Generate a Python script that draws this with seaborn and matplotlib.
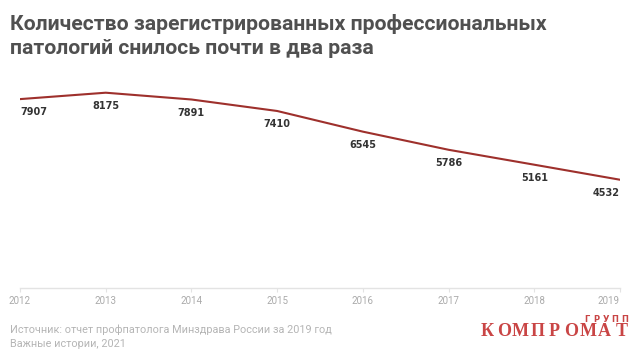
import matplotlib
matplotlib.use("Agg")
import matplotlib.pyplot as plt
import seaborn as sns
import pandas as pd

years = [2012, 2013, 2014, 2015, 2016, 2017, 2018, 2019]
values = [7907, 8175, 7891, 7410, 6545, 5786, 5161, 4532]
title = "Количество зарегистрированных профессиональных\nпатологий снилось почти в два раза"
source_lines = ["Источник: отчет профпатолога Минздрава России за 2019 год", "Важные истории, 2021"]
logo_main = "КОМПРОМАТ"
logo_sub = "ГРУПП"

df = pd.DataFrame({"year": years, "value": values})

sns.set_theme(style="white")
plt.rcParams["font.family"] = ["Roboto", "DejaVu Sans"]

W, H = 640, 359
fig = plt.figure(figsize=(W / 100, H / 100), dpi=100)
ax = fig.add_axes([20 / W, 1 - 288 / H, 600 / W, (288 - 73) / H])

sns.lineplot(data=df, x="year", y="value", ax=ax, color="#9e302c", linewidth=1.5)
ax.set_xlim(2012, 2019)
ax.set_ylim(0, 9000)

for i, (x, y) in enumerate(zip(years, values)):
    ha = "left" if i == 0 else ("right" if i == len(years) - 1 else "center")
    ax.annotate(str(y), (x, y), xytext=(0, -6), textcoords="offset points",
                ha=ha, va="top", fontsize=7, fontweight="bold", color="#333333",
                family=["DejaVu Sans"])

for s in ["top", "right", "left"]:
    ax.spines[s].set_visible(False)
ax.spines["bottom"].set_color("#e3e3e3")
ax.spines["bottom"].set_linewidth(1)
ax.set_yticks([])
ax.set_xticks(years)
ax.set_xticklabels([str(y) for y in years])
ax.tick_params(axis="x", length=3, width=0.8, color="#e3e3e3",
               labelsize=7, pad=3, bottom=True)
for lbl in ax.get_xticklabels():
    lbl.set_color("#aaaaaa")
ax.get_xticklabels()[-1].set_ha("right")
ax.set_xlabel("")
ax.set_ylabel("")

fig.text(10 / W, 1 - 14 / H, title, ha="left", va="top", fontsize=15.2,
         fontweight="bold", color="#505050", linespacing=1.3)

fig.text(10 / W, 1 - 330 / H, source_lines[0], ha="left", va="center",
         fontsize=7.8, color="#b5b5b5")
fig.text(10 / W, 1 - 344 / H, source_lines[1], ha="left", va="center",
         fontsize=7.8, color="#b5b5b5")

# logo, letter-spaced
for k, ch in enumerate(logo_main):
    fig.text((487 + k * 16.8) / W, 1 - 332 / H, ch, ha="center", va="center",
             fontsize=13, fontweight="semibold", color="#c94545", family=["Liberation Serif"])
for k, ch in enumerate(logo_sub):
    fig.text((587 + k * 9.3) / W, 1 - 319.5 / H, ch, ha="center", va="center",
             fontsize=6, fontweight="bold", color="#c94545", family=["DejaVu Sans"])

fig.savefig("out.png", dpi=100)
